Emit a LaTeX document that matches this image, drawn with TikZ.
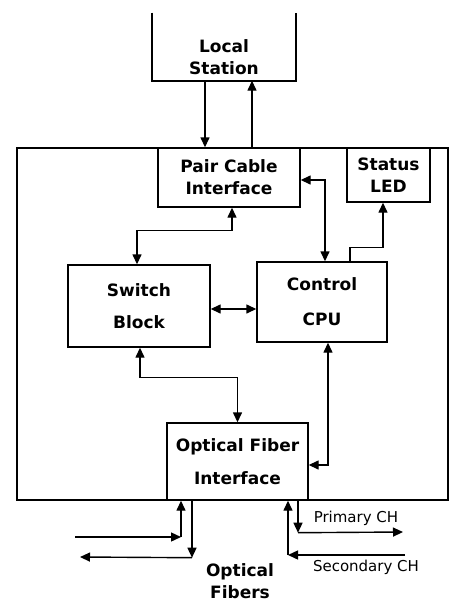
\documentclass[tikz,border=0pt]{standalone}
\usepackage{fontspec}
\setmainfont{DejaVu Sans}
\usetikzlibrary{arrows.meta,positioning,calc}

\begin{document}
\begin{tikzpicture}[x=1pt,y=-1pt,
  unitbox/.style={draw,line width=2.6pt,minimum width=431pt,minimum height=352pt},
  nodebox/.style={draw,line width=1.4pt,inner sep=0pt,align=center,font=\fontsize{17}{22}\selectfont\bfseries},
  flow/.style={-{Triangle[length=10pt,width=9pt]},line width=1.4pt},
  link/.style={{Triangle[length=10pt,width=9pt]}-{Triangle[length=10pt,width=9pt]},line width=1.4pt},
  tag/.style={font=\fontsize{15}{18}\selectfont}]
  \useasboundingbox (0,0) rectangle (452,603);
  % the unit and the local station
  \node[unitbox] (unit) at (232.5,324) {};
  \node[nodebox,draw=none,minimum width=142pt,minimum height=46pt] (station) at (224,57) {Local\\Station};
  \draw[line width=2.2pt] (station.south west) ++(0,-68) -- (station.south west) -- (station.south east) -- ++(0,-68);
  % blocks
  \node[nodebox,minimum width=142pt,minimum height=59pt] (pair) at (229,177.5) {Pair Cable\\Interface};
  \node[nodebox,minimum width=83pt,minimum height=54pt] (status) at (388.5,175) {Status\\LED};
  \node[nodebox,minimum width=142pt,minimum height=82pt] (switch) at (139,306) {Switch\\[10pt]Block};
  \node[nodebox,minimum width=130pt,minimum height=80pt] (cpu) at (322,302) {Control\\[13pt]CPU};
  \node[nodebox,minimum width=141pt,minimum height=77pt] (optical) at (237.5,461.5) {Optical Fiber\\[11pt]Interface};
  % free ends
  \coordinate (fibin) at (75,537);
  \coordinate (fibout) at (80,557);
  \coordinate (primout) at (403,532);
  \coordinate (secin) at (405,555);
  \coordinate (secc) at (288,555);
  % links
  \draw[flow] ([xshift=-19pt]station.south) -- ([xshift=-19pt]station.south |- pair.north);
  \draw[flow] ([xshift=28pt]station.south |- pair.north) -- ([xshift=28pt]station.south);
  \draw[link] ([xshift=3pt]pair.south) -- ++(0,23) -| ([xshift=-2pt]switch.north);
  \draw[link] ([yshift=-2.5pt]pair.east) -| ([xshift=3pt]cpu.north);
  \draw[flow] ([xshift=28pt]cpu.north) -- ++(0,-14) -| ([xshift=-5.5pt]status.south);
  \draw[link] ([yshift=-3pt]switch.east) -- ([yshift=-3pt]switch.east -| cpu.west);
  \draw[link] ([xshift=1pt]switch.south) -- ++(0,30) -| (optical.north);
  \draw[link] ([xshift=6pt]cpu.south) |- ([yshift=-3.5pt]optical.east);
  % fibers and channels
  \draw[flow] (fibin) -- ++(106,0) coordinate (fibinc);
  \draw[flow] (fibinc) -- (fibinc |- optical.south);
  \draw[flow] ([xshift=-45.5pt]optical.south) -- ++(0,57) coordinate (fiboutc);
  \draw[flow] (fiboutc) -- (fibout);
  \draw[flow] ([xshift=60.5pt]optical.south) -- ++(0,32) coordinate (primc);
  \draw[flow] (primc) -- (primout);
  \draw[flow] (secin) -- (secc);
  \draw[flow] (secc) -- (secc |- optical.south);
  \node[tag] (primary) at (356,518) {Primary CH};
  \node[tag] (secondary) at (366,567) {Secondary CH};
  \node[nodebox,draw=none] (fibers) at (240,581) {Optical\\Fibers};
\end{tikzpicture}
\end{document}
